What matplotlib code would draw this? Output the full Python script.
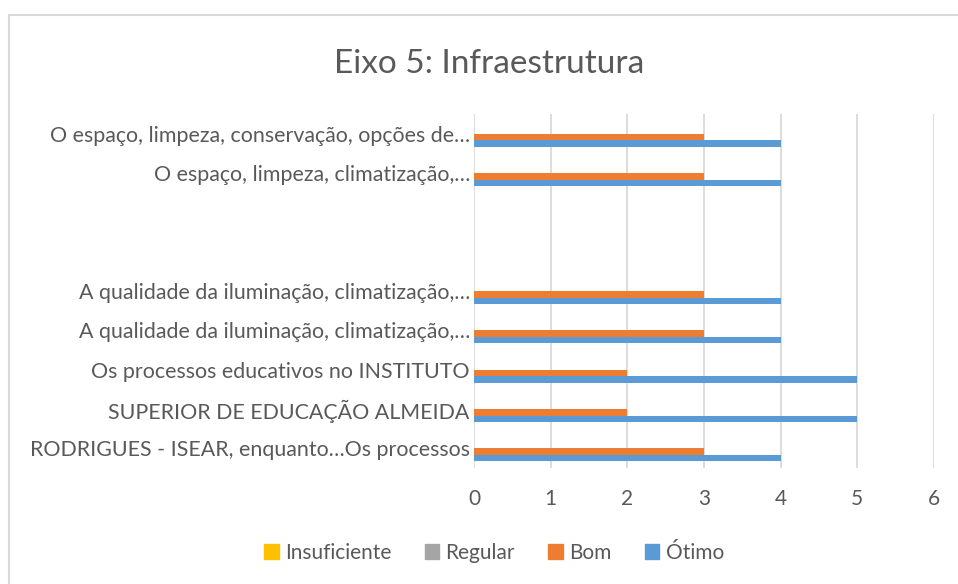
import numpy as np
import matplotlib.pyplot as plt
from matplotlib.patches import Patch, Rectangle

plt.rcParams['font.family'] = ['Lato', 'DejaVu Sans']

# categories, bottom to top as drawn
categories = ['RODRIGUES - ISEAR, enquanto…Os processos',
              'SUPERIOR DE EDUCAÇÃO ALMEIDA',
              'Os processos educativos no INSTITUTO',
              'A qualidade da iluminação, climatização,…',
              'A qualidade da iluminação, climatização,…',
              '',
              '',
              'O espaço, limpeza, climatização,…',
              'O espaço, limpeza, conservação, opções de…']
otimo = [4, 5, 5, 4, 4, 0, 0, 4, 4]
bom = [3, 2, 2, 3, 3, 0, 0, 3, 3]
regular = [0, 0, 0, 0, 0, 0, 0, 0, 0]
insuficiente = [0, 0, 0, 0, 0, 0, 0, 0, 0]
x_ticks = [0, 1, 2, 3, 4, 5, 6]

text_col = '#595959'
c_ins, c_reg, c_bom, c_oti = '#FFC000', '#A5A5A5', '#ED7D31', '#5B9BD5'

fig = plt.figure(figsize=(9.58, 5.84), dpi=100)
# chart border (only top/left visible in the reference)
fig.patches.append(Rectangle((9 / 958, -0.1), 1.2, 1 - 15 / 584 + 0.1,
                             transform=fig.transFigure, fill=False,
                             edgecolor='#D9D9D9', linewidth=1.5))

ax = fig.add_axes([474 / 958, 1 - 468 / 584, 460 / 958, 354 / 584])
y = np.arange(len(categories))
h = 1 / 6
ax.barh(y - 0.25, otimo, height=h, color=c_oti, zorder=3)
ax.barh(y - 0.25 + h, bom, height=h, color=c_bom, zorder=3)
ax.barh(y - 0.25 + 2 * h, regular, height=h, color=c_reg, zorder=3)
ax.barh(y - 0.25 + 3 * h, insuficiente, height=h, color=c_ins, zorder=3)

ax.set_ylim(-0.5, len(categories) - 0.5)
ax.set_xlim(0, 6)
ax.set_xticks(x_ticks)
ax.set_yticks(y)
ax.set_yticklabels(categories)
ax.tick_params(axis='y', length=0, pad=3, labelsize=15.4, labelcolor=text_col)
ax.tick_params(axis='x', length=0, pad=15, labelsize=15, labelcolor=text_col)
ax.grid(axis='x', color='#D9D9D9', linewidth=1.3, zorder=0)
for s in ax.spines.values():
    s.set_visible(False)

fig.text(489 / 958, 1 - 64 / 584, 'Eixo 5: Infraestrutura', ha='center', va='center',
         fontsize=24, color=text_col)

handles = [Patch(color=c_ins), Patch(color=c_reg), Patch(color=c_bom), Patch(color=c_oti)]
fig.legend(handles, ['Insuficiente', 'Regular', 'Bom', 'Ótimo'], loc='center',
           bbox_to_anchor=(494 / 958, 1 - 553 / 584), ncol=4, frameon=False,
           handlelength=0.7, handleheight=0.7, handletextpad=0.3, columnspacing=1.6,
           fontsize=15, labelcolor=text_col)

fig.savefig('out.png', dpi=100)
